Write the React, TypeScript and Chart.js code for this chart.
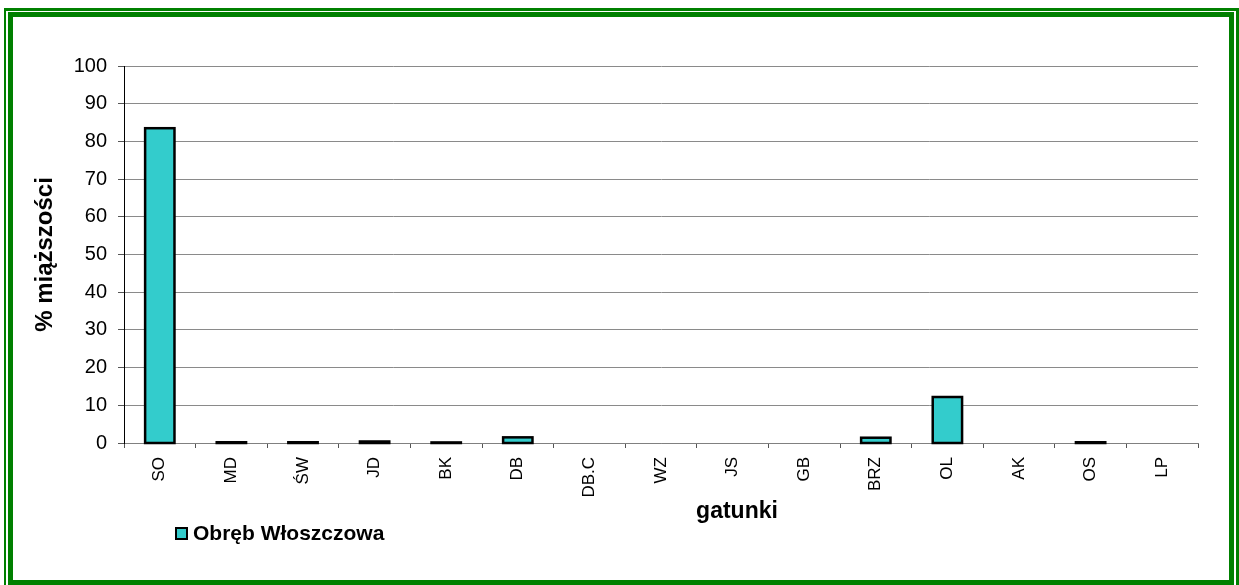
import React, { useEffect, useRef } from "react";
import { Chart, registerables } from "chart.js";

Chart.register(...registerables);

const categories = ["SO", "MD", "ŚW", "JD", "BK", "DB", "DB.C", "WZ", "JS", "GB", "BRZ", "OL", "AK", "OS", "LP"];
const seriesName = "Obręb Włoszczowa";
const values = [83.5, 0.2, 0.2, 0.4, 0.15, 1.5, 0, 0, 0, 0, 1.4, 12.2, 0, 0.2, 0];
const yMin = 0;
const yMax = 100;
const yStep = 10;
const xTitle = "gatunki";
const yTitle = "% miąższości";

const FONT = '"Liberation Sans", Arial, sans-serif';
const BAR_FILL = "#33CCCC";

// Excel-like bar outlines: stroke centred on each bar edge
const barOutlinePlugin = {
  id: "barOutline",
  afterDatasetsDraw(chart: any) {
    const ctx = chart.ctx as CanvasRenderingContext2D;
    const meta = chart.getDatasetMeta(0);
    const yScale = chart.scales.y;
    const zeroPx = yScale.getPixelForValue(0);
    ctx.save();
    ctx.strokeStyle = "#000";
    ctx.lineWidth = 2.5;
    ctx.lineJoin = "miter";
    meta.data.forEach((bar: any, i: number) => {
      if (!values[i]) return;
      const { x, y, width } = bar.getProps(["x", "y", "width"], true);
      ctx.strokeRect(x - width / 2, y, width, zeroPx - y);
    });
    ctx.restore();
  },
};

const overlayPlugin = {
  id: "overlay",
  afterDraw(chart: any) {
    const ctx = chart.ctx as CanvasRenderingContext2D;
    ctx.save();
    // x axis title
    ctx.fillStyle = "#000";
    ctx.font = `bold 23px ${FONT}`;
    ctx.textAlign = "center";
    ctx.textBaseline = "middle";
    ctx.fillText(xTitle, 737, 512);
    // legend
    ctx.fillStyle = BAR_FILL;
    ctx.fillRect(176, 528, 11, 11);
    ctx.strokeStyle = "#000";
    ctx.lineWidth = 2;
    ctx.strokeRect(176, 528, 11, 11);
    ctx.fillStyle = "#000";
    ctx.font = `bold 21px ${FONT}`;
    ctx.textAlign = "left";
    ctx.textBaseline = "middle";
    ctx.fillText(seriesName, 193, 534);
    ctx.restore();
  },
};

export default function App() {
  const canvasRef = useRef<HTMLCanvasElement | null>(null);

  useEffect(() => {
    if (!canvasRef.current) return;
    const chart = new Chart(canvasRef.current, {
      type: "bar",
      data: {
        labels: categories,
        datasets: [
          {
            label: seriesName,
            data: values,
            backgroundColor: BAR_FILL,
            borderWidth: 0,
            barPercentage: 0.41,
            categoryPercentage: 1,
          },
        ],
      },
      options: {
        animation: false,
        responsive: false,
        maintainAspectRatio: false,
        layout: { padding: { left: 31, right: 41, top: 66, bottom: 62 } },
        plugins: { legend: { display: false }, tooltip: { enabled: false } },
        scales: {
          x: {
            afterFit: (scale: any) => {
              scale.height = 80;
            },
            grid: {
              drawOnChartArea: false,
              drawTicks: true,
              tickLength: 5,
              color: "#555",
              offset: true,
            },
            border: { color: "#808080", width: 1 },
            ticks: {
              color: "#000",
              font: { family: FONT, size: 17 },
              minRotation: 90,
              maxRotation: 90,
              autoSkip: false,
              padding: 9,
            },
          },
          y: {
            min: yMin,
            max: yMax,
            afterFit: (scale: any) => {
              scale.width = 93;
            },
            grid: {
              color: "#8a8a8a",
              lineWidth: 1,
              borderDash: [1, 1],
              tickLength: 6,
              tickColor: "#555",
              tickBorderDash: [],
            } as any,
            border: { color: "#000", width: 1 },
            ticks: {
              stepSize: yStep,
              color: "#000",
              font: { family: FONT, size: 20 },
              padding: 11,
            },
            title: {
              display: true,
              text: yTitle,
              color: "#000",
              font: { family: FONT, size: 24, weight: "bold" },
              padding: 0,
            },
          },
        },
      },
      plugins: [barOutlinePlugin, overlayPlugin],
    } as any);
    return () => chart.destroy();
  }, []);

  return (
    <div
      style={{
        position: "fixed",
        left: 0,
        top: 0,
        width: 1239,
        height: 585,
        background: "#fff",
        overflow: "hidden",
      }}
    >
      <div
        style={{
          position: "absolute",
          left: 4,
          top: 8,
          width: 1235,
          height: 590,
          boxSizing: "border-box",
          borderLeft: "2px solid #008000",
          borderTop: "3px solid #008000",
          borderRight: "3px solid #008000",
        }}
      />
      <div
        style={{
          position: "absolute",
          left: 8,
          top: 12,
          width: 1226,
          height: 573,
          boxSizing: "border-box",
          border: "5px solid #008000",
        }}
      />
      <canvas
        ref={canvasRef}
        width={1239}
        height={585}
        style={{ position: "absolute", left: 0, top: 0, width: 1239, height: 585 }}
      />
    </div>
  );
}
